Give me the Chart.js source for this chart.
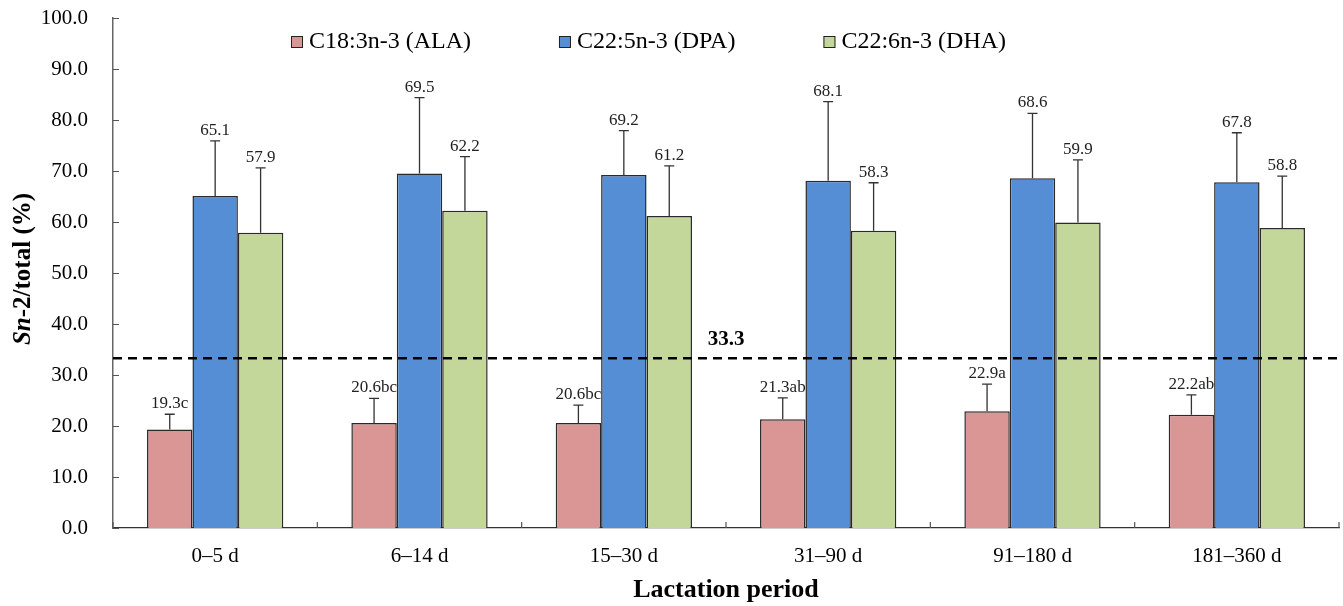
<!DOCTYPE html>
<html>
<head>
<meta charset="utf-8">
<script src="https://cdn.jsdelivr.net/npm/chart.js@4.4.1/dist/chart.umd.min.js"></script>
<style>
  html, body { margin: 0; padding: 0; background: #fff; }
  #wrap { width: 1343px; height: 606px; }
</style>
</head>
<body>
<div id="wrap"><canvas id="chart"></canvas></div>
<script>
const categories = ['0–5 d', '6–14 d', '15–30 d', '31–90 d', '91–180 d', '181–360 d'];
const alaValues = [19.3, 20.6, 20.6, 21.3, 22.9, 22.2];
const alaErrors = [3.0, 4.8, 3.5, 4.2, 5.3, 3.9];
const alaLetters = ['c', 'bc', 'bc', 'ab', 'a', 'ab'];
const dpaValues = [65.1, 69.5, 69.2, 68.1, 68.6, 67.8];
const dpaErrors = [10.8, 14.9, 8.7, 15.5, 12.7, 9.7];
const dhaValues = [57.9, 62.2, 61.2, 58.3, 59.9, 58.8];
const dhaErrors = [12.7, 10.6, 9.8, 9.4, 12.3, 10.2];
const yTicks = [0, 10, 20, 30, 40, 50, 60, 70, 80, 90, 100];
const referenceLine = 33.3;

const serif = '"Liberation Serif", "Times New Roman", serif';

// error bars + value labels
const errorBars = {
    id: 'errorBars',
    afterDatasetsDraw(chart) {
        const ctx = chart.ctx;
        const y = chart.scales.y;
        ctx.save();
        chart.data.datasets.forEach((ds, i) => {
            const meta = chart.getDatasetMeta(i);
            meta.data.forEach((bar, j) => {
                const top = y.getPixelForValue(ds.data[j] + ds.errors[j]);
                ctx.strokeStyle = '#333';
                ctx.lineWidth = 1.3;
                ctx.beginPath();
                ctx.moveTo(bar.x, bar.y);
                ctx.lineTo(bar.x, top);
                ctx.moveTo(bar.x - 5, top);
                ctx.lineTo(bar.x + 5, top);
                ctx.stroke();

                ctx.fillStyle = '#222';
                ctx.font = '17px ' + serif;
                ctx.textAlign = 'center';
                ctx.textBaseline = 'alphabetic';
                const txt = ds.data[j].toFixed(1) + (ds.letters ? ds.letters[j] : '');
                ctx.fillText(txt, bar.x, top - 6);
            });
        });

        // dashed reference line
        const area = chart.chartArea;
        const ry = y.getPixelForValue(referenceLine);
        ctx.strokeStyle = '#000';
        ctx.lineWidth = 2.5;
        ctx.setLineDash([9, 6]);
        ctx.beginPath();
        ctx.moveTo(area.left, ry);
        ctx.lineTo(area.right, ry);
        ctx.stroke();
        ctx.setLineDash([]);
        ctx.fillStyle = '#000';
        ctx.font = 'bold 21px ' + serif;
        ctx.textAlign = 'center';
        ctx.fillText(referenceLine.toFixed(1), (area.left + area.right) / 2, ry - 13);
        ctx.restore();
    }
};

// inward tick marks, y title, legend
const decorations = {
    id: 'decorations',
    afterDraw(chart) {
        const ctx = chart.ctx;
        const area = chart.chartArea;
        const x = chart.scales.x;
        const y = chart.scales.y;
        ctx.save();
        ctx.strokeStyle = '#555';
        ctx.lineWidth = 1.2;
        ctx.beginPath();
        yTicks.forEach(v => {
            const py = Math.round(y.getPixelForValue(v)) + 0.5;
            ctx.moveTo(area.left, py);
            ctx.lineTo(area.left + 6, py);
        });
        for (let i = 0; i <= categories.length; i++) {
            const px = i < categories.length
                ? x.getPixelForTick(i) - (x.getPixelForTick(1) - x.getPixelForTick(0)) / 2
                : area.right;
            ctx.moveTo(px, area.bottom);
            ctx.lineTo(px, area.bottom - 6);
        }
        ctx.stroke();

        // y title: "Sn" italic bold, rest bold
        ctx.translate(24, (area.top + area.bottom) / 2 - 4);
        ctx.rotate(-Math.PI / 2);
        ctx.fillStyle = '#000';
        ctx.textBaseline = 'middle';
        const partA = 'Sn';
        const partB = '-2/total (%)';
        ctx.font = 'italic bold 25px ' + serif;
        const wa = ctx.measureText(partA).width;
        ctx.font = 'bold 25px ' + serif;
        const wb = ctx.measureText(partB).width;
        let sx = -(wa + wb) / 2;
        ctx.textAlign = 'left';
        ctx.font = 'italic bold 25px ' + serif;
        ctx.fillText(partA, sx, 0);
        ctx.font = 'bold 25px ' + serif;
        ctx.fillText(partB, sx + wa, 0);
        ctx.setTransform(1, 0, 0, 1, 0, 0);

        // legend
        ctx.font = '24px ' + serif;
        ctx.textBaseline = 'middle';
        let lx = 291;
        const ly = 42;
        chart.data.datasets.forEach(ds => {
            ctx.fillStyle = ds.backgroundColor;
            ctx.fillRect(lx, ly - 6, 12, 12);
            ctx.strokeStyle = '#222';
            ctx.lineWidth = 1;
            ctx.strokeRect(lx + 0.5, ly - 5.5, 11, 11);
            ctx.fillStyle = '#000';
            ctx.fillText(ds.label, lx + 18, ly);
            lx += 18 + ctx.measureText(ds.label).width + 88;
        });
        ctx.restore();
    }
};

new Chart(document.getElementById('chart'), {
    type: 'bar',
    data: {
        labels: categories,
        datasets: [
            { label: 'C18:3n-3 (ALA)', data: alaValues, errors: alaErrors, letters: alaLetters,
              backgroundColor: '#DA9694', borderColor: '#2a2a2a', borderWidth: 1.5 },
            { label: 'C22:5n-3 (DPA)', data: dpaValues, errors: dpaErrors,
              backgroundColor: '#558ED5', borderColor: '#2a2a2a', borderWidth: 1.5 },
            { label: 'C22:6n-3 (DHA)', data: dhaValues, errors: dhaErrors,
              backgroundColor: '#C4D79B', borderColor: '#2a2a2a', borderWidth: 1.5 }
        ]
    },
    options: {
        responsive: true,
        maintainAspectRatio: false,
        animation: false,
        datasets: { bar: { categoryPercentage: 0.667, barPercentage: 1 } },
        layout: { padding: { top: 18, right: 4, left: 0, bottom: 0 } },
        plugins: { legend: { display: false }, tooltip: { enabled: false } },
        scales: {
            x: {
                grid: { display: false, drawTicks: false },
                border: { display: true, color: '#333', width: 1.2 },
                ticks: { color: '#000', font: { family: serif, size: 21 }, padding: 16 },
                title: { display: true, text: 'Lactation period', color: '#000',
                         font: { family: serif, size: 26, weight: 'bold' }, padding: { top: 0, bottom: 0 } },
                afterFit(scale) { scale.height = 78; }
            },
            y: {
                min: 0,
                max: 100,
                afterBuildTicks(scale) { scale.ticks = yTicks.map(v => ({ value: v })); },
                grid: { display: false, drawTicks: false },
                border: { display: true, color: '#666', width: 1.5 },
                ticks: { color: '#000', font: { family: serif, size: 21 }, padding: 25,
                         callback: v => v.toFixed(1) },
                afterFit(scale) {
                    scale.width = 113;
                    scale.paddingTop = 0;
                    scale.paddingBottom = 0;
                }
            }
        }
    },
    plugins: [errorBars, decorations]
});
</script>
</body>
</html>
